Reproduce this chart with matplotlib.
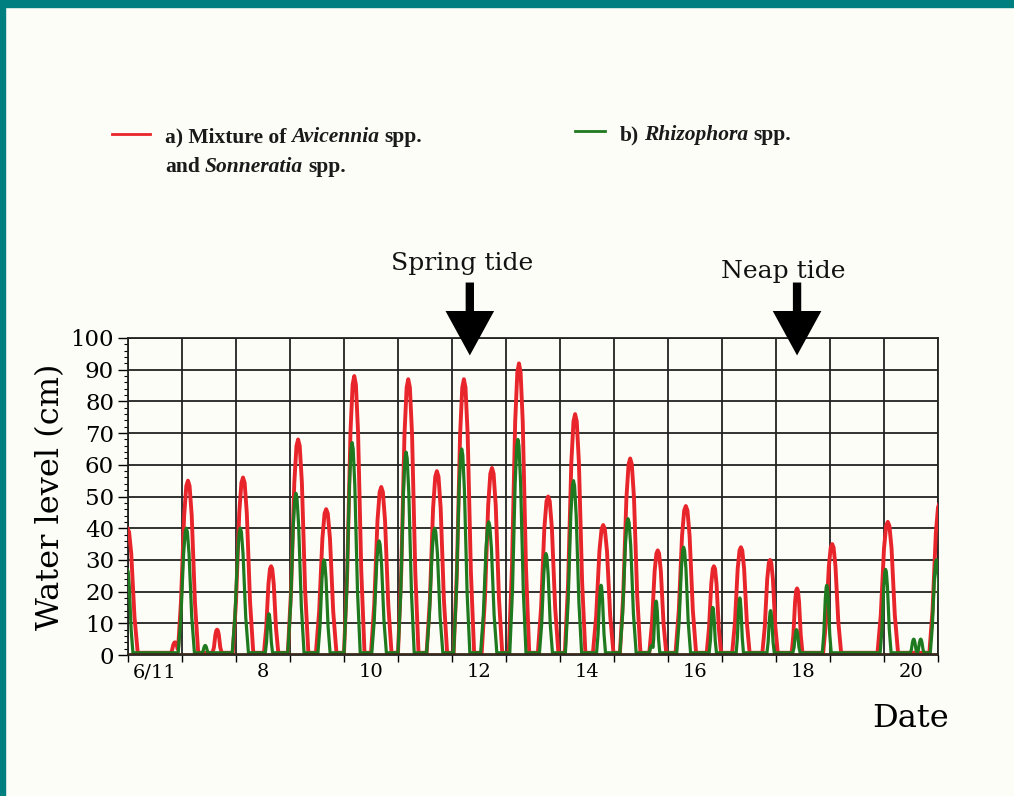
import matplotlib
matplotlib.use("Agg")
import matplotlib.pyplot as plt
import numpy as np
from matplotlib.lines import Line2D
from matplotlib.patches import Rectangle

# peak times (day of June) and peak water levels (cm)
red_days = [5.99, 6.87, 7.11, 7.65, 8.13, 8.65, 9.15, 9.67, 10.19, 10.69, 11.19, 11.72,
            12.22, 12.74, 13.24, 13.78, 14.28, 14.80, 15.30, 15.81, 16.33, 16.85,
            17.35, 17.89, 18.39, 19.04, 20.07, 21.03]
red_levels = [40, 4, 55, 8, 56, 28, 68, 46, 88, 53, 87, 58,
              87, 59, 92, 50, 76, 41, 62, 33, 47, 28,
              34, 30, 21, 35, 42, 48]

green_days = [5.99, 7.08, 7.43, 8.08, 8.61, 9.11, 9.63, 10.15, 10.65, 11.15, 11.68,
              12.18, 12.68, 13.22, 13.74, 14.25, 14.76, 15.26, 15.70, 15.78, 16.29, 16.83,
              17.33, 17.90, 18.38, 18.94, 20.03, 20.55, 20.68, 20.97]
green_levels = [27, 40, 3, 40, 13, 51, 30, 67, 36, 64, 40,
                65, 42, 68, 32, 55, 22, 43, 3, 17, 34, 15,
                18, 14, 8, 22, 27, 5, 5, 30]

x_labels = ["6/11", "8", "10", "12", "14", "16", "18", "20"]
x_label_pos = [6.5, 8.5, 10.5, 12.5, 14.5, 16.5, 18.5, 20.5]

# shape of a single tidal flooding spike (offset in days, fraction of peak)
red_shape = ([-0.19, -0.13, -0.07, -0.03, 0, 0.03, 0.07, 0.13, 0.19],
             [0, 0.3, 0.8, 0.97, 1, 0.97, 0.8, 0.3, 0])
green_shape = ([-0.15, -0.1, -0.05, -0.02, 0, 0.02, 0.05, 0.1, 0.15],
               [0, 0.3, 0.8, 0.97, 1, 0.97, 0.8, 0.3, 0])


def hydrograph(days, levels, shape, base=0.7):
    offs, fr = np.array(shape[0]), np.array(shape[1])
    xs = [5.5, 21.5]
    spikes = []
    for d, h in zip(days, levels):
        k = min(1.0, max(0.45, h / 40))  # small bumps are narrower
        px = d + offs * k
        xs.extend(px)
        spikes.append((px, fr * h))
    xs = np.unique(xs)
    ys = np.full(xs.shape, base)
    for px, py in spikes:
        ys = np.maximum(ys, np.interp(xs, px, py, left=0, right=0))
    return xs, ys


bg = "#fdfdf7"
red = "#e8252b"
green = "#1f7a1f"
serif = "DejaVu Serif"

fig = plt.figure(figsize=(10.14, 7.96), dpi=100, facecolor=bg)
W, H = 1014, 796


def fx(px):
    return px / W


def fy(py):
    return 1 - py / H


# teal frame at top and left
fig.add_artist(Rectangle((0, fy(7)), 1, 7 / H, transform=fig.transFigure, color="#007f80", zorder=10))
fig.add_artist(Rectangle((0, 0), 5 / W, 1, transform=fig.transFigure, color="#007f80", zorder=10))

ax = fig.add_axes([fx(128), fy(655), fx(938) - fx(128), (655 - 338) / H])
ax.set_facecolor(bg)

rx, ry = hydrograph(red_days, red_levels, red_shape)
gx, gy = hydrograph(green_days, green_levels, green_shape)
ax.plot(rx, ry, color=red, lw=2.8, zorder=3, solid_joinstyle="round")
ax.plot(gx, gy, color=green, lw=2.3, zorder=4, solid_joinstyle="round")
ax.axhline(0.3, color="#3a2a1a", lw=2, zorder=5)

ax.set_xlim(6, 21)
ax.set_ylim(0, 100)
ax.set_xticks(np.arange(6, 22, 1))
ax.set_xticklabels([])
ax.set_xticks(x_label_pos, minor=True)
ax.set_xticklabels(x_labels, minor=True, fontsize=14, family=serif)
ax.tick_params(axis="x", which="minor", length=0, pad=6)
ax.tick_params(axis="x", which="major", length=5, width=1, direction="out")
ax.set_yticks(np.arange(0, 101, 10))
ax.set_yticks(np.arange(0, 101, 2), minor=True)
ax.tick_params(axis="y", which="major", length=7, width=1, labelsize=16.5, pad=3)
ax.tick_params(axis="y", which="minor", length=3, width=0.8)
for lab in ax.get_yticklabels():
    lab.set_family(serif)
ax.grid(True, which="major", color="#222222", lw=1.3, zorder=1)
for s in ax.spines.values():
    s.set_color("#222222")
    s.set_linewidth(1.3)

ax.set_ylabel("Water level (cm)", fontsize=23, family=serif, labelpad=3)
fig.text(fx(872), fy(727), "Date", fontsize=23, family=serif, va="baseline")

# spring / neap arrows
for xd, label, ty, tdx in [(12.33, "Spring tide", 270, -8), (18.39, "Neap tide", 278, -14)]:
    ax.annotate("", xy=(xd, 94.5), xytext=(xd, 117.5), xycoords="data",
                annotation_clip=False,
                arrowprops=dict(arrowstyle="simple,head_length=3.2,head_width=3.5,tail_width=0.6",
                                mutation_scale=10, color="black", lw=0, shrinkA=0, shrinkB=0),
                zorder=6)
    xpix = 128 + (xd - 6) * 54
    fig.text(fx(xpix + tdx), fy(ty), label, fontsize=18, family=serif, ha="center",
             va="baseline", color="#111111")

# legend, drawn by hand to mix bold and bold italic
fig.add_artist(Line2D([fx(112), fx(150)], [fy(134), fy(134)], color=red, lw=2,
                      transform=fig.transFigure))
fig.add_artist(Line2D([fx(575), fx(605)], [fy(131), fy(131)], color=green, lw=2,
                      transform=fig.transFigure))

renderer = fig.canvas.get_renderer()


def rich(xp, yp, parts):
    x = fx(xp)
    for s, style in parts:
        t = fig.text(x, fy(yp), s, fontsize=15.5, family="Liberation Serif", weight="bold",
                     style=style, va="baseline", color="#1a1a1a")
        bb = t.get_window_extent(renderer)
        x = bb.x1 / fig.bbox.width + 5 / W


rich(165, 142, [("a) Mixture of", "normal"), ("Avicennia", "italic"), ("spp.", "normal")])
rich(165, 172, [("and", "normal"), ("Sonneratia", "italic"), ("spp.", "normal")])
rich(620, 140, [("b)", "normal"), ("Rhizophora", "italic"), ("spp.", "normal")])

fig.savefig("out.png", dpi=100, facecolor=bg)
